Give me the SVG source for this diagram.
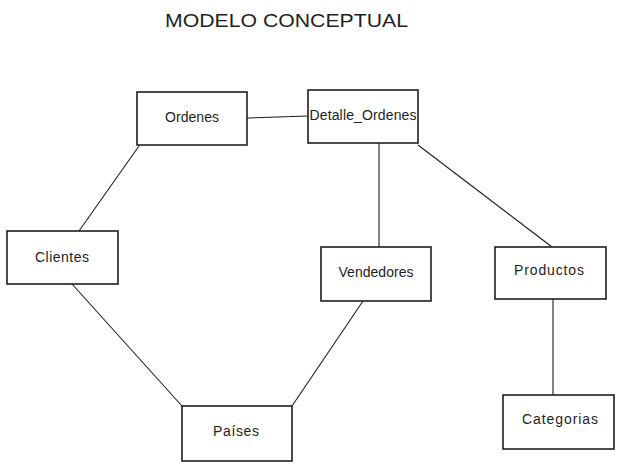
<svg xmlns="http://www.w3.org/2000/svg" width="620" height="467" viewBox="0 0 620 467">
<style>
.box{fill:#ffffff;stroke:#1e1e1e;stroke-width:1.6}
.lbl{font-family:"Liberation Sans","DejaVu Sans",sans-serif;font-size:14px;fill:#1e1e1e;text-anchor:middle}
.title{font-family:"Liberation Sans","DejaVu Sans",sans-serif;font-size:19px;fill:#1e1e1e}
.edge{stroke:#1e1e1e;stroke-width:1.1;fill:none}
</style>
<rect width="620" height="467" fill="#ffffff"/>
<text class="title" x="165" y="27" textLength="243" lengthAdjust="spacingAndGlyphs">MODELO CONCEPTUAL</text>
<g id="connectors">
<line class="edge" x1="247" y1="118" x2="308" y2="116"/>
<line class="edge" x1="139" y1="146" x2="79" y2="231"/>
<line class="edge" x1="72" y1="284" x2="182" y2="406"/>
<line class="edge" x1="363" y1="301" x2="292" y2="406"/>
<line class="edge" x1="379" y1="143" x2="379" y2="247"/>
<line class="edge" x1="418" y1="145" x2="552" y2="247"/>
<line class="edge" x1="553" y1="299" x2="553" y2="395"/>
</g>
<g id="ordenes"><rect class="box" x="137" y="92" width="110" height="53"/><text class="lbl" x="192" y="122" textLength="54">Ordenes</text></g>
<g id="detalle_ordenes"><rect class="box" x="308" y="90" width="110" height="53"/><text class="lbl" x="363" y="120" textLength="107">Detalle_Ordenes</text></g>
<g id="clientes"><rect class="box" x="7" y="231" width="111" height="53"/><text class="lbl" x="62" y="262" textLength="54">Clientes</text></g>
<g id="vendedores"><rect class="box" x="321" y="247" width="110" height="54"/><text class="lbl" x="376" y="277" textLength="75">Vendedores</text></g>
<g id="productos"><rect class="box" x="495" y="247" width="111" height="52"/><text class="lbl" x="549" y="275" textLength="70">Productos</text></g>
<g id="paises"><rect class="box" x="182" y="406" width="110" height="55"/><text class="lbl" x="236" y="436" textLength="46">Países</text></g>
<g id="categorias"><rect class="box" x="503" y="395" width="111" height="54"/><text class="lbl" x="560" y="424" textLength="76">Categorias</text></g>
</svg>
